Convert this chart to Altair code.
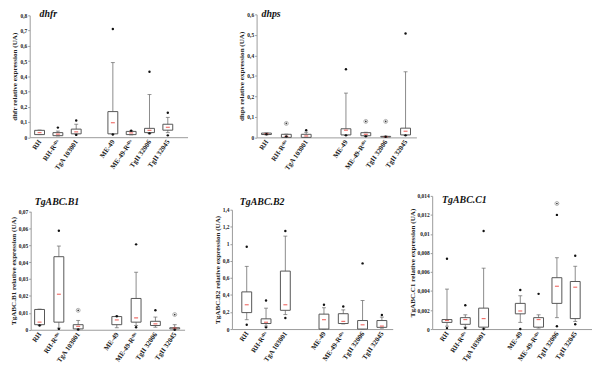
import altair as alt
import pandas as pd

# ---------------- data ----------------
CATS = ["RH", "RH-Rˢᴰᶻ", "TgA 103001", "ME-49", "ME-49-Rˢᴰᶻ", "TgII 32006", "TgII 32045"]

# dhfr
dhfr_lo = [0.017, 0.008, 0.02, 0.02, 0.015, 0.025, 0.03]
dhfr_q1 = [0.017, 0.01, 0.022, 0.022, 0.017, 0.03, 0.046]
dhfr_med = [0.03, 0.02, 0.035, 0.095, 0.028, 0.045, 0.065]
dhfr_q3 = [0.045, 0.03, 0.053, 0.168, 0.038, 0.058, 0.085]
dhfr_hi = [0.047, 0.04, 0.085, 0.49, 0.042, 0.28, 0.13]
dhfr_out = [[], [0.063], [0.11, 0.015], [0.71, 0.018], [0.043], [0.43, 0.025], [0.16, 0.012]]
dhfr_star = [[], [], [], [], [], [], []]

# dhps
dhps_lo = [0.012, 0.0, 0.0, 0.01, 0.005, 0.001, 0.01]
dhps_q1 = [0.014, 0.0, 0.0, 0.012, 0.008, 0.002, 0.012]
dhps_med = [0.018, 0.005, 0.007, 0.035, 0.015, 0.003, 0.03]
dhps_q3 = [0.021, 0.015, 0.015, 0.042, 0.023, 0.005, 0.045]
dhps_hi = [0.022, 0.016, 0.025, 0.216, 0.025, 0.006, 0.32]
dhps_out = [[0.015], [0.005], [0.035], [0.332, 0.01], [0.005], [0.003], [0.507, 0.01]]
dhps_star = [[], [0.068], [], [], [0.078], [0.078], []]

# TgABC.B1
b1_lo = [0.0025, 0.001, 0.0, 0.0012, 0.0025, 0.0015, 0.0]
b1_q1 = [0.003, 0.0045, 0.0005, 0.003, 0.0045, 0.0025, 0.0005]
b1_med = [0.0045, 0.021, 0.002, 0.0058, 0.007, 0.0035, 0.001]
b1_q3 = [0.012, 0.0432, 0.003, 0.0078, 0.0185, 0.005, 0.0012]
b1_hi = [0.0122, 0.0495, 0.0055, 0.008, 0.034, 0.0075, 0.003]
b1_out = [[0.0025], [0.0585, 0.0005], [0.0001], [0.008], [0.0505, 0.0015], [0.0115], [0.0]]
b1_star = [[], [], [0.0115], [], [], [], [0.009]]

# TgABC.B2
b2_lo = [0.11, 0.035, 0.17, 0.0, 0.06, 0.0, 0.01]
b2_q1 = [0.193, 0.065, 0.22, 0.0, 0.065, 0.0, 0.02]
b2_med = [0.285, 0.08, 0.285, 0.11, 0.09, 0.05, 0.035]
b2_q3 = [0.436, 0.12, 0.68, 0.175, 0.18, 0.1, 0.1]
b2_hi = [0.735, 0.245, 1.09, 0.25, 0.225, 0.335, 0.14]
b2_out = [[0.965, 0.05], [0.335, 0.02], [1.15, 0.13], [0.285], [0.265], [0.77], [0.165]]
b2_star = [[], [], [], [], [], [], []]

# TgABC.C1
c1_lo = [0.0003, 0.0002, 0.0001, 0.0007, 0.0001, 0.0012, 0.0008]
c1_q1 = [0.0007, 0.0005, 0.0002, 0.0016, 0.0002, 0.0027, 0.0011]
c1_med = [0.0009, 0.001, 0.0011, 0.0019, 0.001, 0.0045, 0.0044]
c1_q3 = [0.001, 0.0012, 0.0022, 0.0027, 0.0012, 0.0054, 0.005]
c1_hi = [0.0042, 0.0015, 0.0064, 0.0035, 0.0015, 0.0075, 0.0066]
c1_out = [[0.0074, 0.0001], [0.0025, 0.0001], [0.0103, 0.0], [0.0041, 0.0], [0.0037],
          [0.012, 0.0003], [0.0077, 0.0005]]
c1_star = [[], [], [], [], [], [0.0132], []]

# ---------------- layout ----------------
W, H = 592, 359
SERIF = "Liberation Serif"
SPACER = " "
BOX_STROKE = "#555555"
WHISK = "#8a8a8a"
MED_RED = "#e8342e"


def panel(title, ytitle, lo, q1, med, q3, hi, outs, stars, ymax, ystep,
          xr, centers, yr, tpos):
    a0, a1 = xr
    c0, c1 = centers
    domain = CATS[:3] + [SPACER] + CATS[3:]
    n = len(domain)
    step = (c1 - c0) / (n - 1)
    pad = ((a1 - a0) / step - (n - 1)) / 2
    align = (c0 - a0) / ((a1 - a0) - (c1 - c0))
    xs = alt.Scale(type="point", domain=domain, range=[a0, a1], padding=pad, align=align)
    nt = int(round(ymax / ystep))
    yvals = [round(i * ystep, 6) for i in range(nt + 1)]
    ys = alt.Scale(domain=[0, ymax], range=[yr[0], yr[1]], nice=False, zero=False)

    xa = alt.Axis(orient="bottom", offset=yr[0] - H, values=CATS, ticks=False,
                  domainColor="#9a9a9a", labelAngle=-55, labelAlign="right",
                  labelBaseline="middle", labelPadding=3, labelFontSize=7,
                  labelFontWeight="bold", labelColor="#222", labelOverlap=False,
                  labelBound=False, title=None, grid=False)
    ya = alt.Axis(orient="left", offset=-a0, values=yvals, tickSize=2,
                  tickColor="#9a9a9a", domainColor="#9a9a9a",
                  labelExpr="replace(format(datum.value, '~r'), '.', ',')",
                  labelFontSize=5.5, labelFontWeight="bold", labelColor="#222",
                  labelPadding=1, title=ytitle, titleFontSize=7.2,
                  titleFontWeight="bold", titleColor="#222", titlePadding=1,
                  grid=False)

    box = pd.DataFrame({"cat": CATS, "lo": lo, "q1": q1, "med": med, "q3": q3, "hi": hi})
    caps = pd.DataFrame({"cat": CATS * 2, "v": lo + hi})
    od = pd.DataFrame([(c, v) for c, vs in zip(CATS, outs) for v in vs], columns=["cat", "v"])
    sd = pd.DataFrame([(c, v) for c, vs in zip(CATS, stars) for v in vs], columns=["cat", "v"])

    X = alt.X("cat:N", scale=xs, axis=xa)

    layers = [
        alt.Chart(box).mark_rule(color=WHISK, strokeWidth=1).encode(
            x=X, y=alt.Y("lo:Q", scale=ys, axis=ya), y2="hi:Q"),
        alt.Chart(caps).mark_tick(color="#666", size=4, thickness=1).encode(
            x=X, y=alt.Y("v:Q", scale=ys, axis=ya)),
        alt.Chart(box).mark_bar(size=10, fill="white", stroke=BOX_STROKE, strokeWidth=1).encode(
            x=X, y=alt.Y("q1:Q", scale=ys, axis=ya), y2="q3:Q"),
        alt.Chart(box).mark_tick(color=MED_RED, size=4, thickness=1.2).encode(
            x=X, y=alt.Y("med:Q", scale=ys, axis=ya)),
        alt.Chart(od).mark_point(filled=True, color="#111", size=6, opacity=1).encode(
            x=X, y=alt.Y("v:Q", scale=ys, axis=ya)),
    ]
    if len(sd):
        layers.append(alt.Chart(sd).mark_point(filled=False, color="#777", size=16,
                                               strokeWidth=0.8).encode(
            x=X, y=alt.Y("v:Q", scale=ys, axis=ya)))
        layers.append(alt.Chart(sd).mark_point(filled=True, color="#333", size=3, opacity=1).encode(
            x=X, y=alt.Y("v:Q", scale=ys, axis=ya)))
    p = alt.layer(*layers)
    t = alt.Chart(pd.DataFrame({"t": [title]})).mark_text(
        font=SERIF, fontSize=10, fontStyle="italic", fontWeight="bold",
        align="left", baseline="middle", color="#111").encode(
        text="t:N", x=alt.value(tpos[0]), y=alt.value(tpos[1]))
    return p, t


specs = [
    ("dhfr", "dhfr relative expression (UA)", dhfr_lo, dhfr_q1, dhfr_med, dhfr_q3, dhfr_hi,
     dhfr_out, dhfr_star, 0.8, 0.1, (22, 182), (32, 162), (128.5, 5), (32, 4)),
    ("dhps", "dhps relative expression (UA)", dhps_lo, dhps_q1, dhps_med, dhps_q3, dhps_hi,
     dhps_out, dhps_star, 0.6, 0.1, (252, 414), (262, 403), (128.7, 4), (257, 4)),
    ("TgABC.B1", "TgABC.B1 relative expression (UA)", b1_lo, b1_q1, b1_med, b1_q3, b1_hi,
     b1_out, b1_star, 0.07, 0.01, (23, 179), (32, 169), (323.7, 203.7), (27, 194)),
    ("TgABC.B2", "TgABC.B2 relative expression (UA)", b2_lo, b2_q1, b2_med, b2_q3, b2_hi,
     b2_out, b2_star, 1.4, 0.2, (227, 390), (242, 379), (323, 202), (235, 194)),
    ("TgABC.C1", "TgABC.C1 relative expression (UA)", c1_lo, c1_q1, c1_med, c1_q3, c1_hi,
     c1_out, c1_star, 0.014, 0.002, (430, 592), (445, 575), (323, 188), (440, 192)),
]

panels, titles = [], []
for s in specs:
    p, t = panel(*s)
    panels.append(p)
    titles.append(t)

chart = alt.layer(*panels, *titles).resolve_scale(
    x="independent", y="independent"
).properties(
    width=W, height=H, padding=0, autosize=alt.AutoSizeParams(type="none")
).configure_view(stroke=None).configure_axis(
    labelFont=SERIF, titleFont=SERIF
)

chart.save("out.html", embed_options={"renderer": "svg", "actions": False})
